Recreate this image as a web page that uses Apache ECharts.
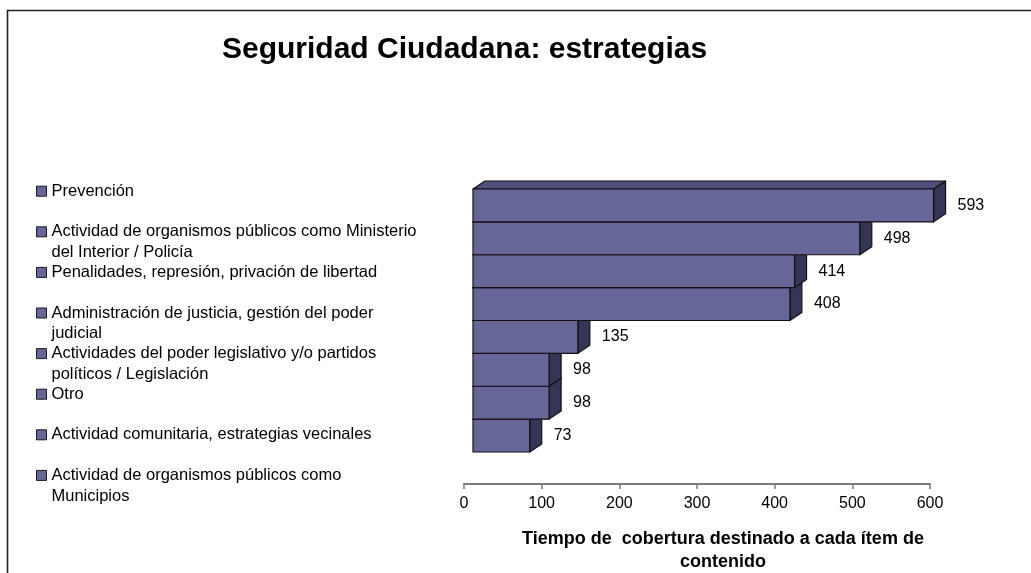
<!DOCTYPE html>
<html>
<head>
<meta charset="utf-8">
<title>Seguridad Ciudadana: estrategias</title>
<script src="https://cdn.jsdelivr.net/npm/echarts@6/dist/echarts.min.js"></script>
<style>
  html, body { margin: 0; padding: 0; background: #fff; }
  #chart { width: 1031px; height: 573px; }
</style>
</head>
<body>
<div id="chart"></div>
<script>
// data
const categories = [
  'Prevención',
  'Actividad de organismos públicos como Ministerio\ndel Interior / Policía',
  'Penalidades, represión, privación de libertad',
  'Administración de justicia, gestión del poder\njudicial',
  'Actividades del poder legislativo y/o partidos\npolíticos / Legislación',
  'Otro',
  'Actividad comunitaria, estrategias vecinales',
  'Actividad de organismos públicos como\nMunicipios'
];
const values = [593, 498, 414, 408, 135, 98, 98, 73];
const axisMin = 0;
const axisMax = 600;
const axisStep = 100;

const FONT = '"Liberation Sans", Arial, sans-serif';
const FRONT = '#666699';
const TOP = '#50507f';
const SIDE = '#353556';
const EDGE = '#111';
// fake 3d: front face is pushed a bit right of the axis origin, depth goes up-right
const SHIFT = 9;
const DX = 12;
const DY = -8;

function renderBar(params, api) {
  const v = api.value(0);
  const c = api.value(1);
  const base = api.coord([0, c]);
  const end = api.coord([v, c]);
  const band = api.size([0, 1])[1];
  const x0 = base[0] + SHIFT;
  const x1 = end[0] + SHIFT;
  const y0 = base[1] - band / 2;
  const y1 = base[1] + band / 2;
  const edge = { stroke: EDGE, lineWidth: 1.2, lineJoin: 'round' };
  return {
    type: 'group',
    children: [
      {
        type: 'polygon',
        shape: { points: [[x0, y0], [x0 + DX, y0 + DY], [x1 + DX, y0 + DY], [x1, y0]] },
        style: Object.assign({ fill: TOP }, edge)
      },
      {
        type: 'polygon',
        shape: { points: [[x1, y0], [x1 + DX, y0 + DY], [x1 + DX, y1 + DY], [x1, y1]] },
        style: Object.assign({ fill: SIDE }, edge)
      },
      {
        type: 'rect',
        shape: { x: x0, y: y0, width: x1 - x0, height: y1 - y0 },
        style: Object.assign({ fill: FRONT }, edge)
      },
      {
        type: 'text',
        style: {
          text: String(v),
          x: x1 + DX + 12,
          y: base[1],
          align: 'left',
          verticalAlign: 'middle',
          fill: '#000',
          fontSize: 16,
          fontFamily: FONT
        }
      }
    ]
  };
}

const chart = echarts.init(document.getElementById('chart'), null, { renderer: 'canvas' });

const option = {
  animation: false,
  backgroundColor: '#fff',
  textStyle: { fontFamily: FONT },
  title: {
    text: 'Seguridad Ciudadana: estrategias',
    left: 222,
    top: 35,
    padding: 0,
    textStyle: { fontSize: 30, fontWeight: 'bold', color: '#000', fontFamily: FONT }
  },
  legend: {
    orient: 'vertical',
    left: 36,
    top: 160,
    padding: 0,
    itemGap: -21.8,
    itemWidth: 10,
    itemHeight: 10,
    icon: 'rect',
    selectedMode: false,
    data: categories,
    itemStyle: { color: FRONT, borderColor: '#1a1a1a', borderWidth: 1 },
    // every entry is three lines tall so the marker sits on the first text line
    formatter: function (name) {
      return name.indexOf('\n') >= 0 ? '\n' + name : '\n' + name + '\n';
    },
    textStyle: { fontSize: 16.5, lineHeight: 20.8, color: '#000', fontFamily: FONT }
  },
  grid: {
    left: 464,
    right: 101,
    top: 189,
    bottom: 121,
    containLabel: false,
    outerBoundsMode: 'none'
  },
  xAxis: {
    type: 'value',
    min: axisMin,
    max: axisMax,
    interval: axisStep,
    offset: 32,
    splitLine: { show: false },
    axisLine: { show: true, lineStyle: { color: '#7a7a7a', width: 2 } },
    axisTick: { show: true, length: 5, lineStyle: { color: '#7a7a7a', width: 1.5 } },
    axisLabel: { color: '#000', fontSize: 16, margin: 12, fontFamily: FONT },
    name: 'Tiempo de  cobertura destinado a cada ítem de\ncontenido',
    nameLocation: 'middle',
    nameGap: 44,
    nameTextStyle: {
      color: '#000',
      fontSize: 18,
      fontWeight: 'bold',
      lineHeight: 23,
      padding: [0, 0, 0, 52],
      fontFamily: FONT
    }
  },
  yAxis: {
    type: 'category',
    data: categories,
    inverse: true,
    show: false
  },
  graphic: [
    {
      type: 'rect',
      shape: { x: 7.5, y: 10.5, width: 1100, height: 700 },
      style: { fill: 'none', stroke: '#222', lineWidth: 1.6 },
      silent: true
    }
  ],
  series: categories.map(function (name, i) {
    return {
      type: 'custom',
      name: name,
      z: 20 - i,
      renderItem: renderBar,
      itemStyle: { color: FRONT },
      encode: { x: 0, y: 1 },
      data: [[values[i], i]]
    };
  })
};

chart.setOption(option);
</script>
</body>
</html>
